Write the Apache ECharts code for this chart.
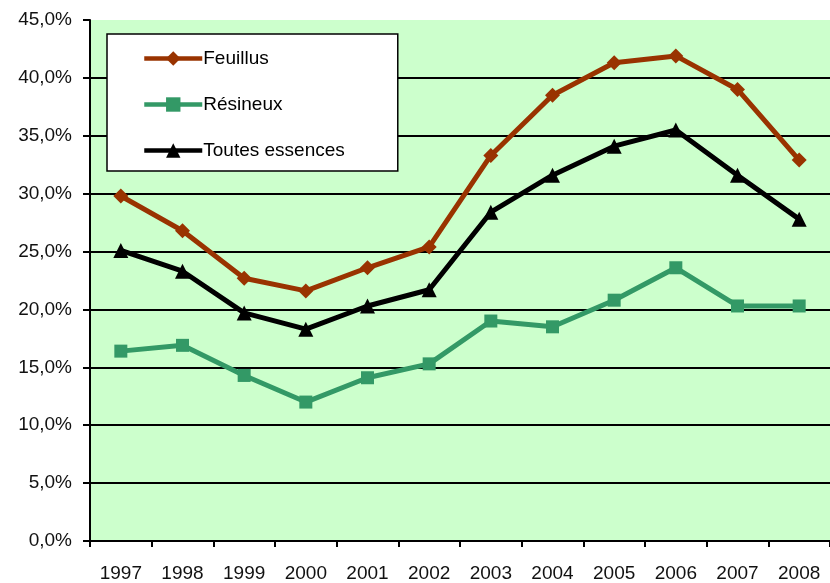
<!DOCTYPE html>
<html>
<head>
<meta charset="utf-8">
<script src="https://cdn.jsdelivr.net/npm/echarts@6/dist/echarts.min.js"></script>
<style>
  html, body { margin: 0; padding: 0; background: #fff; }
  #chart { width: 830px; height: 583px; }
</style>
</head>
<body>
<div id="chart"></div>
<script>
// annees et valeurs
const annees = ['1997', '1998', '1999', '2000', '2001', '2002', '2003', '2004', '2005', '2006', '2007', '2008'];
const feuillus = [29.8, 26.8, 22.7, 21.6, 23.6, 25.4, 33.3, 38.5, 41.3, 41.9, 39.0, 32.9];
const resineux = [16.4, 16.9, 14.3, 12.0, 14.1, 15.3, 19.0, 18.5, 20.8, 23.6, 20.3, 20.3];
const toutes = [25.1, 23.3, 19.7, 18.3, 20.3, 21.7, 28.4, 31.6, 34.1, 35.5, 31.6, 27.8];

const police = 'Liberation Sans, Arial, sans-serif';

const chart = echarts.init(document.getElementById('chart'));

function serie(nom, data, couleur, symbole, taille) {
    return {
        name: nom,
        type: 'line',
        data: data,
        smooth: false,
        symbol: symbole,
        symbolSize: taille,
        lineStyle: { width: 5, color: couleur, join: 'round' },
        itemStyle: { color: couleur },
        z: 3
    };
}

// lignes de quadrillage noires, sauf celle du haut (45 %)
const couleursGrille = ['#000', '#000', '#000', '#000', '#000', '#000', '#000', '#000', '#000', 'rgba(0,0,0,0)'];

chart.setOption({
    animation: false,
    textStyle: { fontFamily: police },
    grid: {
        left: 90,
        top: 20,
        right: -8,
        bottom: 41,
        show: true,
        backgroundColor: '#ccffcc',
        borderWidth: 0
    },
    legend: {
        orient: 'vertical',
        left: 107,
        top: 34,
        data: ['Feuillus', 'Résineux', 'Toutes essences'],
        backgroundColor: '#fff',
        borderColor: '#000',
        borderWidth: 1.5,
        borderRadius: 0,
        padding: [15, 53, 11, 35],
        itemGap: 27,
        itemWidth: 58,
        itemHeight: 18,
        lineStyle: { width: 4.5 },
        textStyle: { fontFamily: police, fontSize: 19, color: '#000', padding: [0, 0, 0, -4] }
    },
    xAxis: {
        type: 'category',
        data: annees,
        boundaryGap: true,
        axisLine: { lineStyle: { color: '#000', width: 2 } },
        axisTick: { show: true, length: 6, lineStyle: { color: '#000', width: 2 } },
        axisLabel: { fontFamily: police, fontSize: 19, color: '#111', margin: 23 },
        splitLine: { show: false }
    },
    yAxis: {
        type: 'value',
        min: 0,
        max: 45,
        interval: 5,
        axisLine: { show: true, lineStyle: { color: '#000', width: 2 } },
        axisTick: { show: true, length: 7, lineStyle: { color: '#000', width: 2 } },
        axisLabel: {
            fontFamily: police,
            fontSize: 19,
            color: '#111',
            margin: 18,
            formatter: v => v.toFixed(1).replace('.', ',') + '%'
        },
        splitLine: { show: true, lineStyle: { color: couleursGrille, width: 2 } }
    },
    series: [
        serie('Feuillus', feuillus, '#993300', 'diamond', 15),
        serie('Résineux', resineux, '#339966', 'rect', 13),
        serie('Toutes essences', toutes, '#000000', 'triangle', 15)
    ]
});
</script>
</body>
</html>
